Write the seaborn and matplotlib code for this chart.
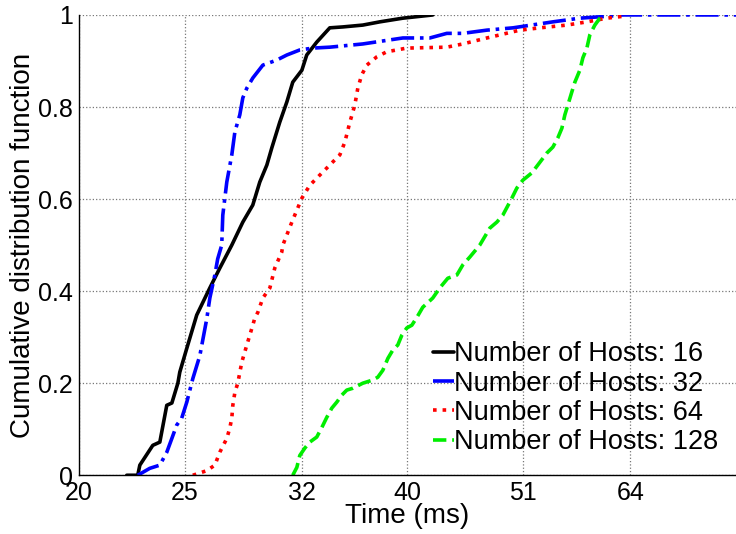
import numpy as np
import pandas as pd
import matplotlib
matplotlib.use('Agg')
import matplotlib.pyplot as plt
import seaborn as sns

# CDF points (time in ms, cumulative fraction)
t16 = [22.13, 22.65, 22.75, 23.38, 23.73, 24.08, 24.34, 24.65, 24.75, 25.12, 25.65,
       26.37, 26.93, 27.62, 28.27, 28.87, 29.30, 29.74, 30.05, 30.56, 31.02, 31.41,
       32.02, 32.35, 33.04, 33.96, 34.91, 36.41, 37.74, 39.62, 42.2]
c16 = [0, 0, 0.022, 0.065, 0.072, 0.152, 0.157, 0.20, 0.224, 0.276, 0.348,
       0.407, 0.45, 0.50, 0.55, 0.587, 0.637, 0.674, 0.711, 0.767, 0.811, 0.854,
       0.88, 0.913, 0.941, 0.972, 0.974, 0.978, 0.985, 0.993, 1.0]

t32 = [22.65, 23.23, 23.73, 24.08, 24.34, 24.59, 24.85, 25.12, 25.44, 25.82, 26.2,
       26.37, 26.65, 26.81, 27.04, 27.10, 27.33, 27.62, 27.80, 28.09, 28.27, 28.51,
       28.87, 29.49, 30.37, 31.02, 31.88, 32.77, 33.96, 36.41, 39.62, 41.94, 43.47,
       44.96, 47.3, 49.97, 54.37, 57.55, 60.03, 61.7, 63.0, 80.0]
c32 = [0, 0.015, 0.022, 0.05, 0.08, 0.109, 0.124, 0.159, 0.21, 0.26, 0.34,
       0.385, 0.435, 0.47, 0.50, 0.565, 0.637, 0.696, 0.746, 0.783, 0.82, 0.841,
       0.863, 0.891, 0.902, 0.913, 0.924, 0.928, 0.93, 0.937, 0.95, 0.95, 0.96,
       0.96, 0.967, 0.972, 0.985, 0.993, 0.996, 0.998, 1.0, 1.0]

t64 = [25.44, 26.2, 26.65, 26.93, 27.33, 27.50, 27.62, 27.68, 27.80, 27.97, 28.21,
       28.51, 28.87, 28.99, 29.18, 29.49, 29.93, 30.24, 30.69, 30.76, 31.35, 32.02,
       32.56, 33.25, 33.96, 34.69, 35.06, 35.43, 35.80, 36.03, 36.33, 36.72, 37.50,
       38.30, 39.95, 43.47, 44.96, 47.3, 50.71, 52.9, 55.99, 58.41, 60.93, 63.55]
c64 = [0, 0.01, 0.022, 0.05, 0.08, 0.102, 0.124, 0.152, 0.18, 0.20, 0.246,
       0.283, 0.326, 0.341, 0.354, 0.385, 0.407, 0.45, 0.485, 0.50, 0.55, 0.602,
       0.63, 0.652, 0.674, 0.696, 0.724, 0.767, 0.804, 0.841, 0.87, 0.891, 0.909,
       0.92, 0.928, 0.93, 0.937, 0.95, 0.967, 0.972, 0.978, 0.985, 0.993, 0.998]

t128 = [31.41, 31.68, 31.88, 32.22, 32.56, 33.04, 33.40, 33.75, 34.11, 34.47, 34.83,
        35.20, 35.65, 36.41, 37.19, 37.58, 37.98, 38.39, 38.79, 39.20, 39.53, 39.95,
        40.38, 40.81, 41.32, 42.2, 42.83, 43.56, 44.40, 44.96, 45.63, 46.60, 47.6,
        48.31, 48.92, 49.86, 50.39, 51.03, 52.01, 52.9, 53.68, 54.37, 54.94, 55.41,
        55.76, 56.11, 56.59, 56.95, 57.55, 57.92, 58.41, 58.78, 59.40, 60.03, 60.67]
c128 = [0, 0.017, 0.043, 0.059, 0.072, 0.083, 0.104, 0.126, 0.146, 0.159, 0.174,
        0.185, 0.189, 0.20, 0.207, 0.213, 0.228, 0.254, 0.272, 0.283, 0.304, 0.32,
        0.326, 0.343, 0.365, 0.385, 0.407, 0.428, 0.435, 0.457, 0.474, 0.50, 0.537,
        0.55, 0.565, 0.602, 0.624, 0.641, 0.657, 0.68, 0.70, 0.713, 0.733, 0.754,
        0.783, 0.804, 0.833, 0.854, 0.88, 0.907, 0.928, 0.957, 0.978, 0.993, 1.0]

labels = ['Number of Hosts: 16', 'Number of Hosts: 32',
          'Number of Hosts: 64', 'Number of Hosts: 128']
xticks = [20, 25, 32, 40, 51, 64]
yticks = [0, 0.2, 0.4, 0.6, 0.8, 1]
ytick_labels = ['0', '0.2', '0.4', '0.6', '0.8', '1']

sns.set_style('white')
plt.rcParams['font.family'] = ['Liberation Sans', 'DejaVu Sans']
plt.rcParams['text.color'] = 'black'
plt.rcParams['axes.labelcolor'] = 'black'

fig = plt.figure(figsize=(7.36, 5.34), dpi=100)
ax = fig.add_axes([0.107, 0.110, 0.893, 0.862])

styles = [('black', '-'), ('blue', '-.'), ('red', ':'), ('#00ee00', '--')]
series = [(t16, c16), (t32, c32), (t64, c64), (t128, c128)]
for (t, c), lab, (col, ls) in zip(series, labels, styles):
    df = pd.DataFrame({'Time': t, 'CDF': c})
    sns.lineplot(data=df, x='Time', y='CDF', ax=ax, color=col, linestyle=ls,
                 linewidth=2.6, label=lab, sort=False, estimator=None)

ax.set_xscale('log')
ax.set_xlim(20, 80)
ax.set_ylim(0, 1)
ax.set_xticks(xticks)
ax.set_xticklabels([str(v) for v in xticks])
ax.xaxis.set_minor_locator(matplotlib.ticker.NullLocator())
ax.set_yticks(yticks)
ax.set_yticklabels(ytick_labels)
ax.tick_params(axis='both', direction='in', length=5, width=1, labelsize=18,
               color='black', labelcolor='black', pad=4)
ax.grid(True, which='major', linestyle=':', color='#777777', linewidth=0.9)
for s in ['top', 'right']:
    ax.spines[s].set_visible(False)
for s in ['left', 'bottom']:
    ax.spines[s].set_color('black')
    ax.spines[s].set_linewidth(1.0)

ax.set_xlabel('Time (ms)', fontsize=20, labelpad=-1)
ax.set_ylabel('Cumulative distribution function', fontsize=20, labelpad=2)

leg = ax.legend(loc='lower right', bbox_to_anchor=(0.99, 0.02), frameon=False,
                fontsize=19.5, handlelength=0.8, handletextpad=0.0,
                labelspacing=0.12, borderaxespad=0.0)
for txt in leg.get_texts():
    txt.set_color('black')

fig.savefig('out.png', dpi=100)
